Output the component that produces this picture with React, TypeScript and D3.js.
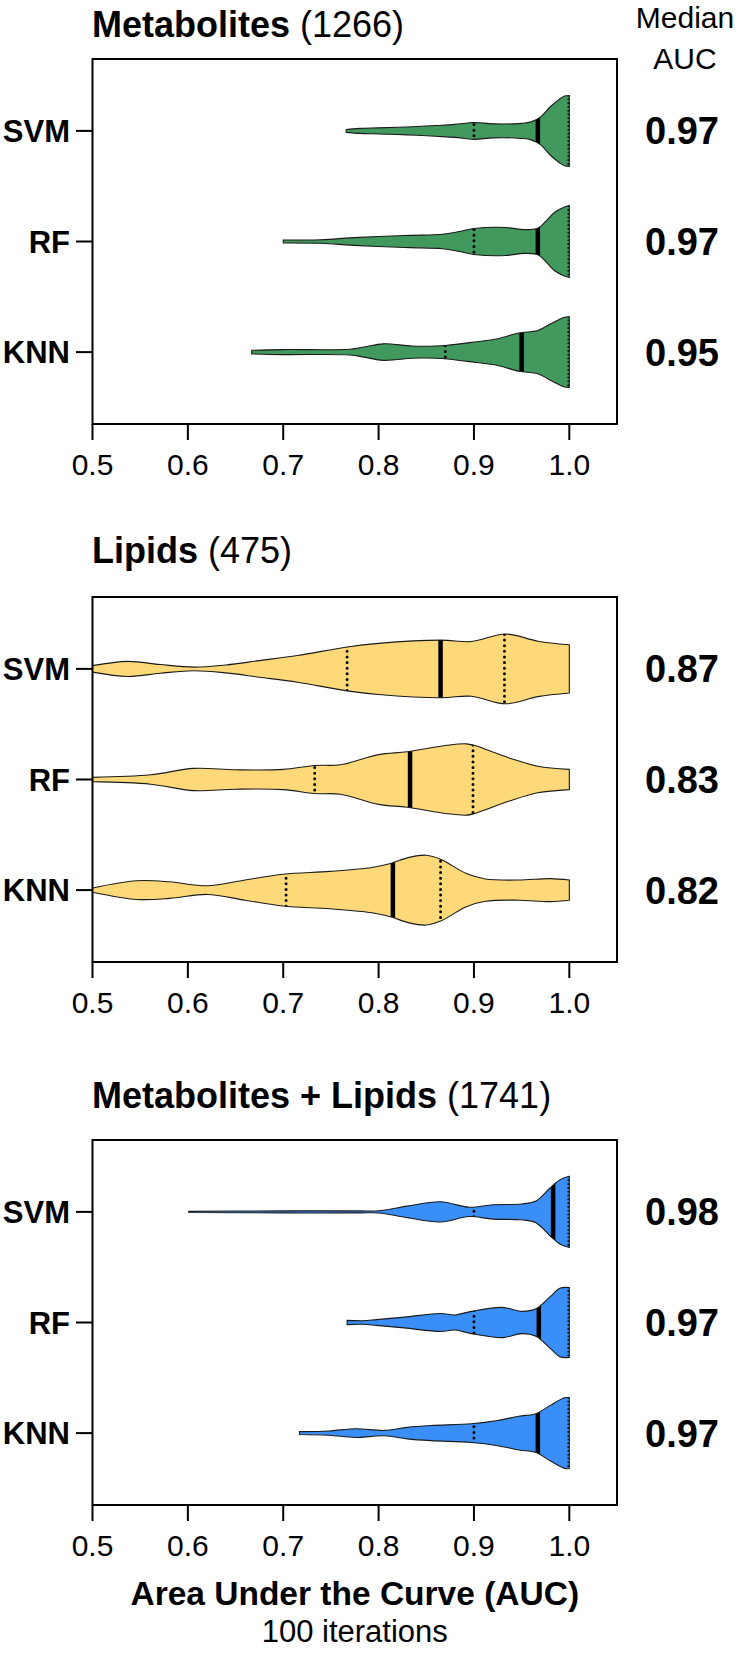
import React from "react";
import * as d3 from "d3";

// ---------- data ----------
const panelNames = ["Metabolites", "Lipids", "Metabolites + Lipids"];
const featureCounts = [1266, 475, 1741];
const models = ["SVM", "RF", "KNN"];
const medianAUC = [
  [0.97, 0.97, 0.95],
  [0.87, 0.83, 0.82],
  [0.98, 0.97, 0.97],
];
const xTicks = [0.5, 0.6, 0.7, 0.8, 0.9, 1.0];
const panelColors = ["#42995E", "#FDD979", "#3A8EF7"];

// quartiles [q1, median, q3] per model
const metQuartiles = [[0.90, 0.967, 1.0], [0.90, 0.967, 1.0], [0.87, 0.95, 1.0]];
const lipQuartiles = [[0.767, 0.865, 0.932], [0.733, 0.833, 0.899], [0.703, 0.815, 0.865]];
const combQuartiles = [[0.90, 0.983, 1.0], [0.90, 0.968, 1.0], [0.90, 0.967, 1.0]];

// violin density profiles: [AUC, relative density]
const metSVM = [[0.766, 0.04], [0.78, 0.07], [0.80, 0.085], [0.83, 0.11], [0.86, 0.15], [0.88, 0.18], [0.90, 0.235], [0.92, 0.195], [0.95, 0.21], [0.96, 0.25], [0.97, 0.39], [0.98, 0.67], [0.99, 0.89], [0.995, 0.97], [1.0, 0.985]];
const metRF = [[0.70, 0.04], [0.74, 0.05], [0.77, 0.1], [0.80, 0.14], [0.833, 0.17], [0.867, 0.2], [0.885, 0.28], [0.90, 0.36], [0.933, 0.39], [0.9525, 0.33], [0.967, 0.37], [0.975, 0.55], [0.985, 0.82], [0.995, 0.96], [1.0, 1.0]];
const metKNN = [[0.667, 0.05], [0.70, 0.07], [0.77, 0.08], [0.785, 0.14], [0.805, 0.23], [0.835, 0.17], [0.86, 0.17], [0.872, 0.19], [0.90, 0.28], [0.925, 0.37], [0.947, 0.53], [0.967, 0.6], [0.98, 0.78], [0.995, 0.97], [1.0, 0.98]];

const lipSVM = [[0.5, 0.09], [0.537, 0.21], [0.571, 0.12], [0.606, 0.05], [0.64, 0.11], [0.675, 0.23], [0.715, 0.37], [0.767, 0.61], [0.80, 0.71], [0.865, 0.8], [0.8975, 0.76], [0.933, 0.97], [0.967, 0.77], [1.0, 0.67]];
const lipRF = [[0.5, 0.06], [0.561, 0.13], [0.606, 0.31], [0.65, 0.27], [0.70, 0.28], [0.733, 0.39], [0.76, 0.41], [0.80, 0.69], [0.83, 0.77], [0.872, 0.95], [0.892, 0.99], [0.90, 0.95], [0.937, 0.6], [0.967, 0.37], [1.0, 0.28]];
const lipKNN = [[0.5, 0.06], [0.5465, 0.26], [0.581, 0.23], [0.6205, 0.12], [0.66, 0.28], [0.70, 0.44], [0.749, 0.52], [0.793, 0.63], [0.8125, 0.74], [0.832, 0.91], [0.85, 0.97], [0.865, 0.86], [0.892, 0.46], [0.912, 0.31], [0.947, 0.28], [0.98, 0.32], [1.0, 0.28]];

const combSVM = [[0.601, 0.015], [0.70, 0.028], [0.78, 0.028], [0.80, 0.03], [0.83, 0.16], [0.865, 0.28], [0.895, 0.13], [0.92, 0.2], [0.95, 0.22], [0.965, 0.3], [0.98, 0.67], [0.99, 0.89], [1.0, 0.99]];
const combRF = [[0.767, 0.06], [0.783, 0.05], [0.798, 0.08], [0.827, 0.15], [0.865, 0.25], [0.88, 0.21], [0.8975, 0.31], [0.93, 0.42], [0.95, 0.31], [0.965, 0.38], [0.98, 0.72], [0.99, 0.95], [1.0, 0.97]];
const combKNN = [[0.717, 0.04], [0.748, 0.06], [0.776, 0.12], [0.806, 0.075], [0.83, 0.16], [0.855, 0.21], [0.8975, 0.26], [0.925, 0.35], [0.947, 0.47], [0.965, 0.54], [0.98, 0.77], [0.995, 0.98], [1.0, 0.985]];

const violins = [
  [metSVM, metRF, metKNN],
  [lipSVM, lipRF, lipKNN],
  [combSVM, combRF, combKNN],
];
const quartiles = [metQuartiles, lipQuartiles, combQuartiles];

// ---------- layout ----------
const W = 740;
const H = 1653;
const FONT = "'Liberation Sans', Arial, Helvetica, sans-serif";
const plotLeft = 92.5;
const plotRight = 617;
const panelTops = [59, 597, 1140];
const titleBaselines = [37, 563, 1108];
const panelH = 365;

const x = d3.scaleLinear().domain([0.5, 1.05]).range([plotLeft, plotRight]);
const wScale = d3.scaleLinear().domain([0, 1]).range([0, 36]);

function Panel({ p }: { p: number }) {
  const top = panelTops[p];
  const bottom = top + panelH;
  const y = d3.scalePoint<string>().domain(models).range([top, bottom]).padding(0.65);
  return (
    <g>
      <text x={92} y={titleBaselines[p]} fontSize={36} fontFamily={FONT} style={{ whiteSpace: "pre" }}>
        <tspan fontWeight={700}>{panelNames[p]}</tspan>
        <tspan>{" (" + featureCounts[p] + ")"}</tspan>
      </text>
      {models.map((m, i) => {
        const cy = y(m) as number;
        const data = violins[p][i] as number[][];
        const area = d3
          .area<number[]>()
          .x((d) => x(d[0]))
          .y0((d) => cy - wScale(d[1]))
          .y1((d) => cy + wScale(d[1]))
          .curve(d3.curveCatmullRom.alpha(0.5));
        const path = area(data) as string;
        const id = `clip-${p}-${i}`;
        const [q1, med, q3] = quartiles[p][i];
        return (
          <g key={m}>
            <clipPath id={id}>
              <path d={path} />
            </clipPath>
            <path d={path} fill={panelColors[p]} stroke="none" />
            <g clipPath={`url(#${id})`}>
              {[q1, q3].map((q, k) => {
                const edge = q >= 0.999;
                const qx = edge ? x(q) - 1 : x(q);
                return (
                  <line
                    key={k}
                    x1={qx}
                    x2={qx}
                    y1={cy - 40}
                    y2={cy + 40}
                    stroke="#000"
                    strokeWidth={edge ? 1.6 : 3}
                    strokeDasharray={edge ? "1.6 2.2" : "0.01 5.6"}
                    strokeLinecap={edge ? "butt" : "round"}
                  />
                );
              })}
              <line x1={x(med)} x2={x(med)} y1={cy - 40} y2={cy + 40} stroke="#000" strokeWidth={4.5} />
            </g>
            <path d={path} fill="none" stroke="#1a1a1a" strokeWidth={1.1} />
            <line x1={76} x2={plotLeft} y1={cy} y2={cy} stroke="#000" strokeWidth={2} />
            <text x={70} y={cy + 11} fontSize={31} fontWeight={700} fontFamily={FONT} textAnchor="end">
              {m}
            </text>
            <text x={682} y={cy + 13.5} fontSize={38} fontWeight={700} fontFamily={FONT} textAnchor="middle">
              {medianAUC[p][i].toFixed(2)}
            </text>
          </g>
        );
      })}
      <rect x={plotLeft} y={top} width={plotRight - plotLeft} height={panelH} fill="none" stroke="#000" strokeWidth={2} />
      {xTicks.map((t) => (
        <g key={t}>
          <line x1={x(t)} x2={x(t)} y1={bottom} y2={bottom + 16} stroke="#000" strokeWidth={2} />
          <text x={x(t)} y={bottom + 51} fontSize={30} fontFamily={FONT} textAnchor="middle">
            {t.toFixed(1)}
          </text>
        </g>
      ))}
    </g>
  );
}

export default function App() {
  return (
    <svg
      width={W}
      height={H}
      viewBox={`0 0 ${W} ${H}`}
      style={{ position: "absolute", left: 0, top: 0, display: "block", background: "#fff" }}
    >
      <rect x={0} y={0} width={W} height={H} fill="#fff" />
      <text x={685} y={28} fontSize={30} fontFamily={FONT} textAnchor="middle">Median</text>
      <text x={685} y={69} fontSize={30} fontFamily={FONT} textAnchor="middle">AUC</text>
      {[0, 1, 2].map((p) => (
        <Panel key={p} p={p} />
      ))}
      <text x={(plotLeft + plotRight) / 2} y={1605} fontSize={33.5} fontWeight={700} fontFamily={FONT} textAnchor="middle">
        Area Under the Curve (AUC)
      </text>
      <text x={(plotLeft + plotRight) / 2} y={1642} fontSize={31} fontFamily={FONT} textAnchor="middle">
        100 iterations
      </text>
    </svg>
  );
}
